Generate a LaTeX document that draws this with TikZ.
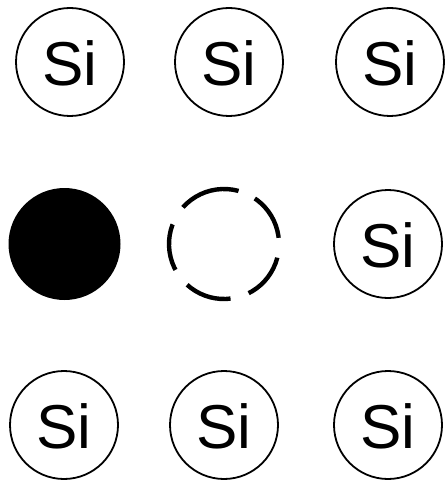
\documentclass[tikz,border=0pt]{standalone}
\usepackage{fontspec}
\setmainfont{Liberation Sans}
\begin{document}
\begin{tikzpicture}[x=1pt,y=-1pt,
 atom/.style={draw,circle,line width=1.8pt,minimum size=108pt,inner sep=0pt,
   font=\fontsize{62}{62}\selectfont,text height=47pt,text depth=0pt},
 dopant/.style={circle,fill=black,minimum size=112pt,inner sep=0pt},
 vacancy/.style={draw,circle,line width=4.4pt,minimum size=110pt,inner sep=0pt,rotate=8,
   dash pattern=on 46pt off 18pt on 61pt off 20pt on 47pt off 19pt on 47pt off 19pt on 47pt off 20pt}]
\useasboundingbox (0,0) rectangle (445,481);
\node[atom] (si1) at (70,62) {Si};
\node[atom] (si2) at (229,62) {Si};
\node[atom] (si3) at (390,62) {Si};
\node[dopant] (dop) at (64.5,244) {};
\node[vacancy] (vac) at (224,244) {};
\node[atom] (si4) at (388,244) {Si};
\node[atom] (si5) at (64,425) {Si};
\node[atom] (si6) at (224,425) {Si};
\node[atom] (si7) at (388,425) {Si};
\end{tikzpicture}
\end{document}
